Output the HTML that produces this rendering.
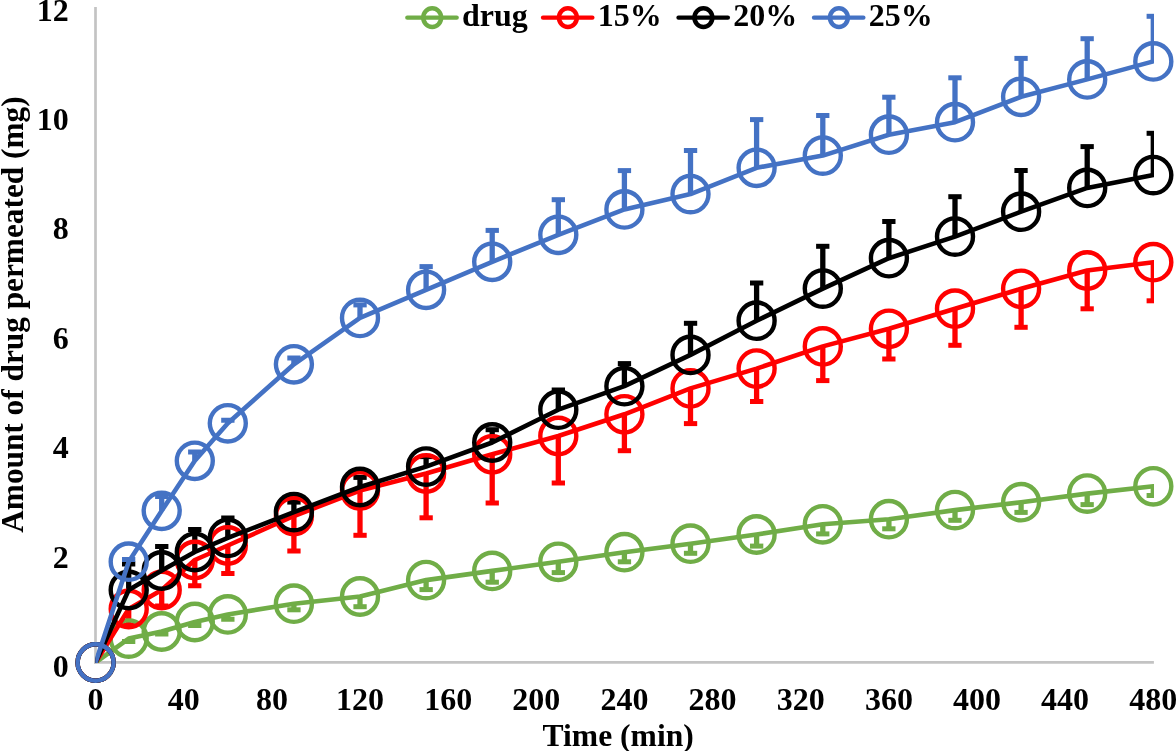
<!DOCTYPE html>
<html><head><meta charset="utf-8"><title>chart</title>
<style>
html,body{margin:0;padding:0;background:#fff;}
body{width:1176px;height:751px;overflow:hidden;position:relative;}
svg{position:absolute;left:0;top:0;will-change:transform;}
text{font-family:"Liberation Serif",serif;font-weight:bold;fill:#000;}
</style></head><body>
<svg width="1176" height="751" viewBox="0 0 1176 751">
<defs><clipPath id="plot"><rect x="95.3" y="0" width="1058.7" height="662.9"/></clipPath></defs>

<line x1="95.5" y1="7" x2="95.5" y2="663.7" stroke="#c3c3c3" stroke-width="2.7"/>
<line x1="94.2" y1="662.4" x2="1153.9" y2="662.4" stroke="#c3c3c3" stroke-width="2.6"/>
<g clip-path="url(#plot)" stroke="#70ad47" fill="none">
<line x1="128.7" y1="638.6" x2="128.7" y2="641.5" stroke-width="5.3"/>
<line x1="122.0" y1="641.5" x2="135.3" y2="641.5" stroke-width="5.0"/>
<line x1="161.7" y1="631.5" x2="161.7" y2="634.0" stroke-width="5.3"/>
<line x1="155.1" y1="634.0" x2="168.4" y2="634.0" stroke-width="5.0"/>
<line x1="194.8" y1="622.0" x2="194.8" y2="625.5" stroke-width="5.3"/>
<line x1="188.1" y1="625.5" x2="201.4" y2="625.5" stroke-width="5.0"/>
<line x1="227.8" y1="614.4" x2="227.8" y2="619.3" stroke-width="5.3"/>
<line x1="221.2" y1="619.3" x2="234.5" y2="619.3" stroke-width="5.0"/>
<line x1="293.9" y1="603.7" x2="293.9" y2="609.8" stroke-width="5.3"/>
<line x1="287.3" y1="609.8" x2="300.6" y2="609.8" stroke-width="5.0"/>
<line x1="360.0" y1="596.5" x2="360.0" y2="606.7" stroke-width="5.3"/>
<line x1="353.4" y1="606.7" x2="366.7" y2="606.7" stroke-width="5.0"/>
<line x1="426.1" y1="580.1" x2="426.1" y2="589.6" stroke-width="5.3"/>
<line x1="419.5" y1="589.6" x2="432.8" y2="589.6" stroke-width="5.0"/>
<line x1="492.2" y1="570.9" x2="492.2" y2="582.2" stroke-width="5.3"/>
<line x1="485.6" y1="582.2" x2="498.9" y2="582.2" stroke-width="5.0"/>
<line x1="558.3" y1="561.8" x2="558.3" y2="572.6" stroke-width="5.3"/>
<line x1="551.7" y1="572.6" x2="565.0" y2="572.6" stroke-width="5.0"/>
<line x1="624.4" y1="552.2" x2="624.4" y2="561.8" stroke-width="5.3"/>
<line x1="617.8" y1="561.8" x2="631.1" y2="561.8" stroke-width="5.0"/>
<line x1="690.5" y1="543.7" x2="690.5" y2="553.3" stroke-width="5.3"/>
<line x1="683.9" y1="553.3" x2="697.2" y2="553.3" stroke-width="5.0"/>
<line x1="756.6" y1="534.5" x2="756.6" y2="546.1" stroke-width="5.3"/>
<line x1="750.0" y1="546.1" x2="763.3" y2="546.1" stroke-width="5.0"/>
<line x1="822.8" y1="524.3" x2="822.8" y2="533.9" stroke-width="5.3"/>
<line x1="816.1" y1="533.9" x2="829.4" y2="533.9" stroke-width="5.0"/>
<line x1="888.9" y1="519.2" x2="888.9" y2="528.8" stroke-width="5.3"/>
<line x1="882.2" y1="528.8" x2="895.5" y2="528.8" stroke-width="5.0"/>
<line x1="955.0" y1="510.1" x2="955.0" y2="520.3" stroke-width="5.3"/>
<line x1="948.3" y1="520.3" x2="961.6" y2="520.3" stroke-width="5.0"/>
<line x1="1021.1" y1="502.2" x2="1021.1" y2="512.4" stroke-width="5.3"/>
<line x1="1014.4" y1="512.4" x2="1027.7" y2="512.4" stroke-width="5.0"/>
<line x1="1087.2" y1="493.6" x2="1087.2" y2="504.6" stroke-width="5.3"/>
<line x1="1080.5" y1="504.6" x2="1093.8" y2="504.6" stroke-width="5.0"/>
<line x1="1153.3" y1="486.3" x2="1153.3" y2="495.5" stroke-width="5.3"/>
<line x1="1146.6" y1="495.5" x2="1159.9" y2="495.5" stroke-width="5.0"/>
</g>
<g clip-path="url(#plot)" stroke="#ff0000" fill="none">
<line x1="128.7" y1="609.0" x2="128.7" y2="625.0" stroke-width="5.3"/>
<line x1="122.0" y1="625.0" x2="135.3" y2="625.0" stroke-width="5.0"/>
<line x1="161.7" y1="590.0" x2="161.7" y2="606.0" stroke-width="5.3"/>
<line x1="155.1" y1="606.0" x2="168.4" y2="606.0" stroke-width="5.0"/>
<line x1="194.8" y1="560.0" x2="194.8" y2="585.8" stroke-width="5.3"/>
<line x1="188.1" y1="585.8" x2="201.4" y2="585.8" stroke-width="5.0"/>
<line x1="227.8" y1="545.5" x2="227.8" y2="573.6" stroke-width="5.3"/>
<line x1="221.2" y1="573.6" x2="234.5" y2="573.6" stroke-width="5.0"/>
<line x1="293.9" y1="516.0" x2="293.9" y2="551.0" stroke-width="5.3"/>
<line x1="287.3" y1="551.0" x2="300.6" y2="551.0" stroke-width="5.0"/>
<line x1="360.0" y1="490.6" x2="360.0" y2="535.3" stroke-width="5.3"/>
<line x1="353.4" y1="535.3" x2="366.7" y2="535.3" stroke-width="5.0"/>
<line x1="426.1" y1="473.5" x2="426.1" y2="517.8" stroke-width="5.3"/>
<line x1="419.5" y1="517.8" x2="432.8" y2="517.8" stroke-width="5.0"/>
<line x1="492.2" y1="454.3" x2="492.2" y2="503.0" stroke-width="5.3"/>
<line x1="485.6" y1="503.0" x2="498.9" y2="503.0" stroke-width="5.0"/>
<line x1="558.3" y1="436.0" x2="558.3" y2="483.0" stroke-width="5.3"/>
<line x1="551.7" y1="483.0" x2="565.0" y2="483.0" stroke-width="5.0"/>
<line x1="624.4" y1="414.3" x2="624.4" y2="450.7" stroke-width="5.3"/>
<line x1="617.8" y1="450.7" x2="631.1" y2="450.7" stroke-width="5.0"/>
<line x1="690.5" y1="388.4" x2="690.5" y2="423.6" stroke-width="5.3"/>
<line x1="683.9" y1="423.6" x2="697.2" y2="423.6" stroke-width="5.0"/>
<line x1="756.6" y1="368.6" x2="756.6" y2="401.5" stroke-width="5.3"/>
<line x1="750.0" y1="401.5" x2="763.3" y2="401.5" stroke-width="5.0"/>
<line x1="822.8" y1="346.4" x2="822.8" y2="380.6" stroke-width="5.3"/>
<line x1="816.1" y1="380.6" x2="829.4" y2="380.6" stroke-width="5.0"/>
<line x1="888.9" y1="328.8" x2="888.9" y2="359.0" stroke-width="5.3"/>
<line x1="882.2" y1="359.0" x2="895.5" y2="359.0" stroke-width="5.0"/>
<line x1="955.0" y1="308.7" x2="955.0" y2="345.3" stroke-width="5.3"/>
<line x1="948.3" y1="345.3" x2="961.6" y2="345.3" stroke-width="5.0"/>
<line x1="1021.1" y1="288.8" x2="1021.1" y2="327.3" stroke-width="5.3"/>
<line x1="1014.4" y1="327.3" x2="1027.7" y2="327.3" stroke-width="5.0"/>
<line x1="1087.2" y1="270.5" x2="1087.2" y2="308.8" stroke-width="5.3"/>
<line x1="1080.5" y1="308.8" x2="1093.8" y2="308.8" stroke-width="5.0"/>
<line x1="1153.3" y1="262.2" x2="1153.3" y2="300.8" stroke-width="5.3"/>
<line x1="1146.6" y1="300.8" x2="1159.9" y2="300.8" stroke-width="5.0"/>
</g>
<g clip-path="url(#plot)" stroke="#000000" fill="none">
<line x1="128.7" y1="590.0" x2="128.7" y2="564.0" stroke-width="5.3"/>
<line x1="122.0" y1="564.0" x2="135.3" y2="564.0" stroke-width="5.0"/>
<line x1="161.7" y1="570.5" x2="161.7" y2="546.6" stroke-width="5.3"/>
<line x1="155.1" y1="546.6" x2="168.4" y2="546.6" stroke-width="5.0"/>
<line x1="194.8" y1="552.0" x2="194.8" y2="529.4" stroke-width="5.3"/>
<line x1="188.1" y1="529.4" x2="201.4" y2="529.4" stroke-width="5.0"/>
<line x1="227.8" y1="537.9" x2="227.8" y2="518.0" stroke-width="5.3"/>
<line x1="221.2" y1="518.0" x2="234.5" y2="518.0" stroke-width="5.0"/>
<line x1="293.9" y1="512.1" x2="293.9" y2="502.1" stroke-width="5.3"/>
<line x1="287.3" y1="502.1" x2="300.6" y2="502.1" stroke-width="5.0"/>
<line x1="360.0" y1="487.0" x2="360.0" y2="477.4" stroke-width="5.3"/>
<line x1="353.4" y1="477.4" x2="366.7" y2="477.4" stroke-width="5.0"/>
<line x1="426.1" y1="466.6" x2="426.1" y2="456.6" stroke-width="5.3"/>
<line x1="419.5" y1="456.6" x2="432.8" y2="456.6" stroke-width="5.0"/>
<line x1="492.2" y1="442.5" x2="492.2" y2="429.7" stroke-width="5.3"/>
<line x1="485.6" y1="429.7" x2="498.9" y2="429.7" stroke-width="5.0"/>
<line x1="558.3" y1="409.7" x2="558.3" y2="390.0" stroke-width="5.3"/>
<line x1="551.7" y1="390.0" x2="565.0" y2="390.0" stroke-width="5.0"/>
<line x1="624.4" y1="386.2" x2="624.4" y2="363.6" stroke-width="5.3"/>
<line x1="617.8" y1="363.6" x2="631.1" y2="363.6" stroke-width="5.0"/>
<line x1="690.5" y1="354.9" x2="690.5" y2="323.3" stroke-width="5.3"/>
<line x1="683.9" y1="323.3" x2="697.2" y2="323.3" stroke-width="5.0"/>
<line x1="756.6" y1="320.7" x2="756.6" y2="283.0" stroke-width="5.3"/>
<line x1="750.0" y1="283.0" x2="763.3" y2="283.0" stroke-width="5.0"/>
<line x1="822.8" y1="288.6" x2="822.8" y2="246.3" stroke-width="5.3"/>
<line x1="816.1" y1="246.3" x2="829.4" y2="246.3" stroke-width="5.0"/>
<line x1="888.9" y1="258.2" x2="888.9" y2="221.5" stroke-width="5.3"/>
<line x1="882.2" y1="221.5" x2="895.5" y2="221.5" stroke-width="5.0"/>
<line x1="955.0" y1="236.6" x2="955.0" y2="196.7" stroke-width="5.3"/>
<line x1="948.3" y1="196.7" x2="961.6" y2="196.7" stroke-width="5.0"/>
<line x1="1021.1" y1="211.7" x2="1021.1" y2="170.5" stroke-width="5.3"/>
<line x1="1014.4" y1="170.5" x2="1027.7" y2="170.5" stroke-width="5.0"/>
<line x1="1087.2" y1="187.9" x2="1087.2" y2="146.6" stroke-width="5.3"/>
<line x1="1080.5" y1="146.6" x2="1093.8" y2="146.6" stroke-width="5.0"/>
<line x1="1153.3" y1="175.1" x2="1153.3" y2="133.3" stroke-width="5.3"/>
<line x1="1146.6" y1="133.3" x2="1159.9" y2="133.3" stroke-width="5.0"/>
</g>
<g clip-path="url(#plot)" stroke="#4472c4" fill="none">
<line x1="128.7" y1="561.7" x2="128.7" y2="559.5" stroke-width="5.3"/>
<line x1="122.0" y1="559.5" x2="135.3" y2="559.5" stroke-width="5.0"/>
<line x1="161.7" y1="510.8" x2="161.7" y2="496.5" stroke-width="5.3"/>
<line x1="155.1" y1="496.5" x2="168.4" y2="496.5" stroke-width="5.0"/>
<line x1="194.8" y1="460.8" x2="194.8" y2="452.0" stroke-width="5.3"/>
<line x1="188.1" y1="452.0" x2="201.4" y2="452.0" stroke-width="5.0"/>
<line x1="227.8" y1="423.3" x2="227.8" y2="420.3" stroke-width="5.3"/>
<line x1="221.2" y1="420.3" x2="234.5" y2="420.3" stroke-width="5.0"/>
<line x1="293.9" y1="364.3" x2="293.9" y2="358.0" stroke-width="5.3"/>
<line x1="287.3" y1="358.0" x2="300.6" y2="358.0" stroke-width="5.0"/>
<line x1="360.0" y1="317.9" x2="360.0" y2="304.9" stroke-width="5.3"/>
<line x1="353.4" y1="304.9" x2="366.7" y2="304.9" stroke-width="5.0"/>
<line x1="426.1" y1="289.8" x2="426.1" y2="266.6" stroke-width="5.3"/>
<line x1="419.5" y1="266.6" x2="432.8" y2="266.6" stroke-width="5.0"/>
<line x1="492.2" y1="261.8" x2="492.2" y2="230.4" stroke-width="5.3"/>
<line x1="485.6" y1="230.4" x2="498.9" y2="230.4" stroke-width="5.0"/>
<line x1="558.3" y1="234.8" x2="558.3" y2="199.7" stroke-width="5.3"/>
<line x1="551.7" y1="199.7" x2="565.0" y2="199.7" stroke-width="5.0"/>
<line x1="624.4" y1="209.4" x2="624.4" y2="170.6" stroke-width="5.3"/>
<line x1="617.8" y1="170.6" x2="631.1" y2="170.6" stroke-width="5.0"/>
<line x1="690.5" y1="194.1" x2="690.5" y2="150.5" stroke-width="5.3"/>
<line x1="683.9" y1="150.5" x2="697.2" y2="150.5" stroke-width="5.0"/>
<line x1="756.6" y1="167.8" x2="756.6" y2="119.6" stroke-width="5.3"/>
<line x1="750.0" y1="119.6" x2="763.3" y2="119.6" stroke-width="5.0"/>
<line x1="822.8" y1="155.6" x2="822.8" y2="115.5" stroke-width="5.3"/>
<line x1="816.1" y1="115.5" x2="829.4" y2="115.5" stroke-width="5.0"/>
<line x1="888.9" y1="134.7" x2="888.9" y2="97.2" stroke-width="5.3"/>
<line x1="882.2" y1="97.2" x2="895.5" y2="97.2" stroke-width="5.0"/>
<line x1="955.0" y1="122.2" x2="955.0" y2="77.8" stroke-width="5.3"/>
<line x1="948.3" y1="77.8" x2="961.6" y2="77.8" stroke-width="5.0"/>
<line x1="1021.1" y1="96.8" x2="1021.1" y2="58.4" stroke-width="5.3"/>
<line x1="1014.4" y1="58.4" x2="1027.7" y2="58.4" stroke-width="5.0"/>
<line x1="1087.2" y1="79.4" x2="1087.2" y2="38.7" stroke-width="5.3"/>
<line x1="1080.5" y1="38.7" x2="1093.8" y2="38.7" stroke-width="5.0"/>
<line x1="1153.3" y1="61.4" x2="1153.3" y2="16.3" stroke-width="5.3"/>
<line x1="1146.6" y1="16.3" x2="1159.9" y2="16.3" stroke-width="5.0"/>
</g>
<g clip-path="url(#plot)" stroke="#70ad47" fill="none">
<polyline points="95.6,662.5 128.7,638.6 161.7,631.5 194.8,622.0 227.8,614.4 293.9,603.7 360.0,596.5 426.1,580.1 492.2,570.9 558.3,561.8 624.4,552.2 690.5,543.7 756.6,534.5 822.8,524.3 888.9,519.2 955.0,510.1 1021.1,502.2 1087.2,493.6 1153.3,486.3" stroke-width="4.6" stroke-linejoin="round" stroke-linecap="round"/>
</g>
<g stroke="#70ad47" fill="none" stroke-width="4.4">
<ellipse cx="95.6" cy="662.5" rx="18.0" ry="18.2"/>
<ellipse cx="128.7" cy="638.6" rx="18.0" ry="18.2"/>
<ellipse cx="161.7" cy="631.5" rx="18.0" ry="18.2"/>
<ellipse cx="194.8" cy="622.0" rx="18.0" ry="18.2"/>
<ellipse cx="227.8" cy="614.4" rx="18.0" ry="18.2"/>
<ellipse cx="293.9" cy="603.7" rx="18.0" ry="18.2"/>
<ellipse cx="360.0" cy="596.5" rx="18.0" ry="18.2"/>
<ellipse cx="426.1" cy="580.1" rx="18.0" ry="18.2"/>
<ellipse cx="492.2" cy="570.9" rx="18.0" ry="18.2"/>
<ellipse cx="558.3" cy="561.8" rx="18.0" ry="18.2"/>
<ellipse cx="624.4" cy="552.2" rx="18.0" ry="18.2"/>
<ellipse cx="690.5" cy="543.7" rx="18.0" ry="18.2"/>
<ellipse cx="756.6" cy="534.5" rx="18.0" ry="18.2"/>
<ellipse cx="822.8" cy="524.3" rx="18.0" ry="18.2"/>
<ellipse cx="888.9" cy="519.2" rx="18.0" ry="18.2"/>
<ellipse cx="955.0" cy="510.1" rx="18.0" ry="18.2"/>
<ellipse cx="1021.1" cy="502.2" rx="18.0" ry="18.2"/>
<ellipse cx="1087.2" cy="493.6" rx="18.0" ry="18.2"/>
<ellipse cx="1153.3" cy="486.3" rx="18.0" ry="18.2"/>
</g>
<g clip-path="url(#plot)" stroke="#ff0000" fill="none">
<polyline points="95.6,662.5 128.7,609.0 161.7,590.0 194.8,560.0 227.8,545.5 293.9,516.0 360.0,490.6 426.1,473.5 492.2,454.3 558.3,436.0 624.4,414.3 690.5,388.4 756.6,368.6 822.8,346.4 888.9,328.8 955.0,308.7 1021.1,288.8 1087.2,270.5 1153.3,262.2" stroke-width="4.6" stroke-linejoin="round" stroke-linecap="round"/>
</g>
<g stroke="#ff0000" fill="none" stroke-width="4.4">
<ellipse cx="95.6" cy="662.5" rx="18.0" ry="18.2"/>
<ellipse cx="128.7" cy="609.0" rx="18.0" ry="18.2"/>
<ellipse cx="161.7" cy="590.0" rx="18.0" ry="18.2"/>
<ellipse cx="194.8" cy="560.0" rx="18.0" ry="18.2"/>
<ellipse cx="227.8" cy="545.5" rx="18.0" ry="18.2"/>
<ellipse cx="293.9" cy="516.0" rx="18.0" ry="18.2"/>
<ellipse cx="360.0" cy="490.6" rx="18.0" ry="18.2"/>
<ellipse cx="426.1" cy="473.5" rx="18.0" ry="18.2"/>
<ellipse cx="492.2" cy="454.3" rx="18.0" ry="18.2"/>
<ellipse cx="558.3" cy="436.0" rx="18.0" ry="18.2"/>
<ellipse cx="624.4" cy="414.3" rx="18.0" ry="18.2"/>
<ellipse cx="690.5" cy="388.4" rx="18.0" ry="18.2"/>
<ellipse cx="756.6" cy="368.6" rx="18.0" ry="18.2"/>
<ellipse cx="822.8" cy="346.4" rx="18.0" ry="18.2"/>
<ellipse cx="888.9" cy="328.8" rx="18.0" ry="18.2"/>
<ellipse cx="955.0" cy="308.7" rx="18.0" ry="18.2"/>
<ellipse cx="1021.1" cy="288.8" rx="18.0" ry="18.2"/>
<ellipse cx="1087.2" cy="270.5" rx="18.0" ry="18.2"/>
<ellipse cx="1153.3" cy="262.2" rx="18.0" ry="18.2"/>
</g>
<g clip-path="url(#plot)" stroke="#000000" fill="none">
<polyline points="95.6,662.5 128.7,590.0 161.7,570.5 194.8,552.0 227.8,537.9 293.9,512.1 360.0,487.0 426.1,466.6 492.2,442.5 558.3,409.7 624.4,386.2 690.5,354.9 756.6,320.7 822.8,288.6 888.9,258.2 955.0,236.6 1021.1,211.7 1087.2,187.9 1153.3,175.1" stroke-width="4.6" stroke-linejoin="round" stroke-linecap="round"/>
</g>
<g stroke="#000000" fill="none" stroke-width="4.4">
<ellipse cx="95.6" cy="662.5" rx="18.0" ry="18.2"/>
<ellipse cx="128.7" cy="590.0" rx="18.0" ry="18.2"/>
<ellipse cx="161.7" cy="570.5" rx="18.0" ry="18.2"/>
<ellipse cx="194.8" cy="552.0" rx="18.0" ry="18.2"/>
<ellipse cx="227.8" cy="537.9" rx="18.0" ry="18.2"/>
<ellipse cx="293.9" cy="512.1" rx="18.0" ry="18.2"/>
<ellipse cx="360.0" cy="487.0" rx="18.0" ry="18.2"/>
<ellipse cx="426.1" cy="466.6" rx="18.0" ry="18.2"/>
<ellipse cx="492.2" cy="442.5" rx="18.0" ry="18.2"/>
<ellipse cx="558.3" cy="409.7" rx="18.0" ry="18.2"/>
<ellipse cx="624.4" cy="386.2" rx="18.0" ry="18.2"/>
<ellipse cx="690.5" cy="354.9" rx="18.0" ry="18.2"/>
<ellipse cx="756.6" cy="320.7" rx="18.0" ry="18.2"/>
<ellipse cx="822.8" cy="288.6" rx="18.0" ry="18.2"/>
<ellipse cx="888.9" cy="258.2" rx="18.0" ry="18.2"/>
<ellipse cx="955.0" cy="236.6" rx="18.0" ry="18.2"/>
<ellipse cx="1021.1" cy="211.7" rx="18.0" ry="18.2"/>
<ellipse cx="1087.2" cy="187.9" rx="18.0" ry="18.2"/>
<ellipse cx="1153.3" cy="175.1" rx="18.0" ry="18.2"/>
</g>
<g clip-path="url(#plot)" stroke="#4472c4" fill="none">
<polyline points="95.6,662.5 128.7,561.7 161.7,510.8 194.8,460.8 227.8,423.3 293.9,364.3 360.0,317.9 426.1,289.8 492.2,261.8 558.3,234.8 624.4,209.4 690.5,194.1 756.6,167.8 822.8,155.6 888.9,134.7 955.0,122.2 1021.1,96.8 1087.2,79.4 1153.3,61.4" stroke-width="4.6" stroke-linejoin="round" stroke-linecap="round"/>
</g>
<g stroke="#4472c4" fill="none" stroke-width="4.4">
<ellipse cx="95.6" cy="662.5" rx="18.0" ry="18.2"/>
<ellipse cx="128.7" cy="561.7" rx="18.0" ry="18.2"/>
<ellipse cx="161.7" cy="510.8" rx="18.0" ry="18.2"/>
<ellipse cx="194.8" cy="460.8" rx="18.0" ry="18.2"/>
<ellipse cx="227.8" cy="423.3" rx="18.0" ry="18.2"/>
<ellipse cx="293.9" cy="364.3" rx="18.0" ry="18.2"/>
<ellipse cx="360.0" cy="317.9" rx="18.0" ry="18.2"/>
<ellipse cx="426.1" cy="289.8" rx="18.0" ry="18.2"/>
<ellipse cx="492.2" cy="261.8" rx="18.0" ry="18.2"/>
<ellipse cx="558.3" cy="234.8" rx="18.0" ry="18.2"/>
<ellipse cx="624.4" cy="209.4" rx="18.0" ry="18.2"/>
<ellipse cx="690.5" cy="194.1" rx="18.0" ry="18.2"/>
<ellipse cx="756.6" cy="167.8" rx="18.0" ry="18.2"/>
<ellipse cx="822.8" cy="155.6" rx="18.0" ry="18.2"/>
<ellipse cx="888.9" cy="134.7" rx="18.0" ry="18.2"/>
<ellipse cx="955.0" cy="122.2" rx="18.0" ry="18.2"/>
<ellipse cx="1021.1" cy="96.8" rx="18.0" ry="18.2"/>
<ellipse cx="1087.2" cy="79.4" rx="18.0" ry="18.2"/>
<ellipse cx="1153.3" cy="61.4" rx="18.0" ry="18.2"/>
</g>
<text x="68.7" y="676.8" font-size="32" text-anchor="end">0</text>
<text x="68.7" y="567.5" font-size="32" text-anchor="end">2</text>
<text x="68.7" y="458.1" font-size="32" text-anchor="end">4</text>
<text x="68.7" y="348.8" font-size="32" text-anchor="end">6</text>
<text x="68.7" y="239.4" font-size="32" text-anchor="end">8</text>
<text x="68.7" y="130.1" font-size="32" text-anchor="end">10</text>
<text x="68.7" y="20.8" font-size="32" text-anchor="end">12</text>
<text x="95.6" y="710" font-size="32" text-anchor="middle">0</text>
<text x="183.7" y="710" font-size="32" text-anchor="middle">40</text>
<text x="271.9" y="710" font-size="32" text-anchor="middle">80</text>
<text x="360.0" y="710" font-size="32" text-anchor="middle">120</text>
<text x="448.2" y="710" font-size="32" text-anchor="middle">160</text>
<text x="536.3" y="710" font-size="32" text-anchor="middle">200</text>
<text x="624.4" y="710" font-size="32" text-anchor="middle">240</text>
<text x="712.6" y="710" font-size="32" text-anchor="middle">280</text>
<text x="800.7" y="710" font-size="32" text-anchor="middle">320</text>
<text x="888.9" y="710" font-size="32" text-anchor="middle">360</text>
<text x="977.0" y="710" font-size="32" text-anchor="middle">400</text>
<text x="1065.1" y="710" font-size="32" text-anchor="middle">440</text>
<text x="1153.3" y="710" font-size="32" text-anchor="middle">480</text>
<text x="618.2" y="745.6" font-size="31.6" text-anchor="middle">Time (min)</text>
<text transform="translate(23,314.6) rotate(-90)" font-size="31.3" text-anchor="middle">Amount of drug permeated (mg)</text>
<line x1="407.3" y1="17.7" x2="456.7" y2="17.7" stroke="#70ad47" stroke-width="4.3" stroke-linecap="round"/>
<ellipse cx="432.2" cy="17.6" rx="8.95" ry="9.4" stroke="#70ad47" stroke-width="4.5" fill="none"/>
<text x="462.0" y="26" font-size="32">drug</text>
<line x1="543.0" y1="17.7" x2="592.4" y2="17.7" stroke="#ff0000" stroke-width="4.3" stroke-linecap="round"/>
<ellipse cx="567.9" cy="17.6" rx="8.95" ry="9.4" stroke="#ff0000" stroke-width="4.5" fill="none"/>
<text x="597.7" y="26" font-size="32">15%</text>
<line x1="678.5" y1="17.7" x2="727.9" y2="17.7" stroke="#000000" stroke-width="4.3" stroke-linecap="round"/>
<ellipse cx="703.4" cy="17.6" rx="8.95" ry="9.4" stroke="#000000" stroke-width="4.5" fill="none"/>
<text x="733.2" y="26" font-size="32">20%</text>
<line x1="814.0" y1="17.7" x2="863.4" y2="17.7" stroke="#4472c4" stroke-width="4.3" stroke-linecap="round"/>
<ellipse cx="838.9" cy="17.6" rx="8.95" ry="9.4" stroke="#4472c4" stroke-width="4.5" fill="none"/>
<text x="868.7" y="26" font-size="32">25%</text>
</svg></body></html>
